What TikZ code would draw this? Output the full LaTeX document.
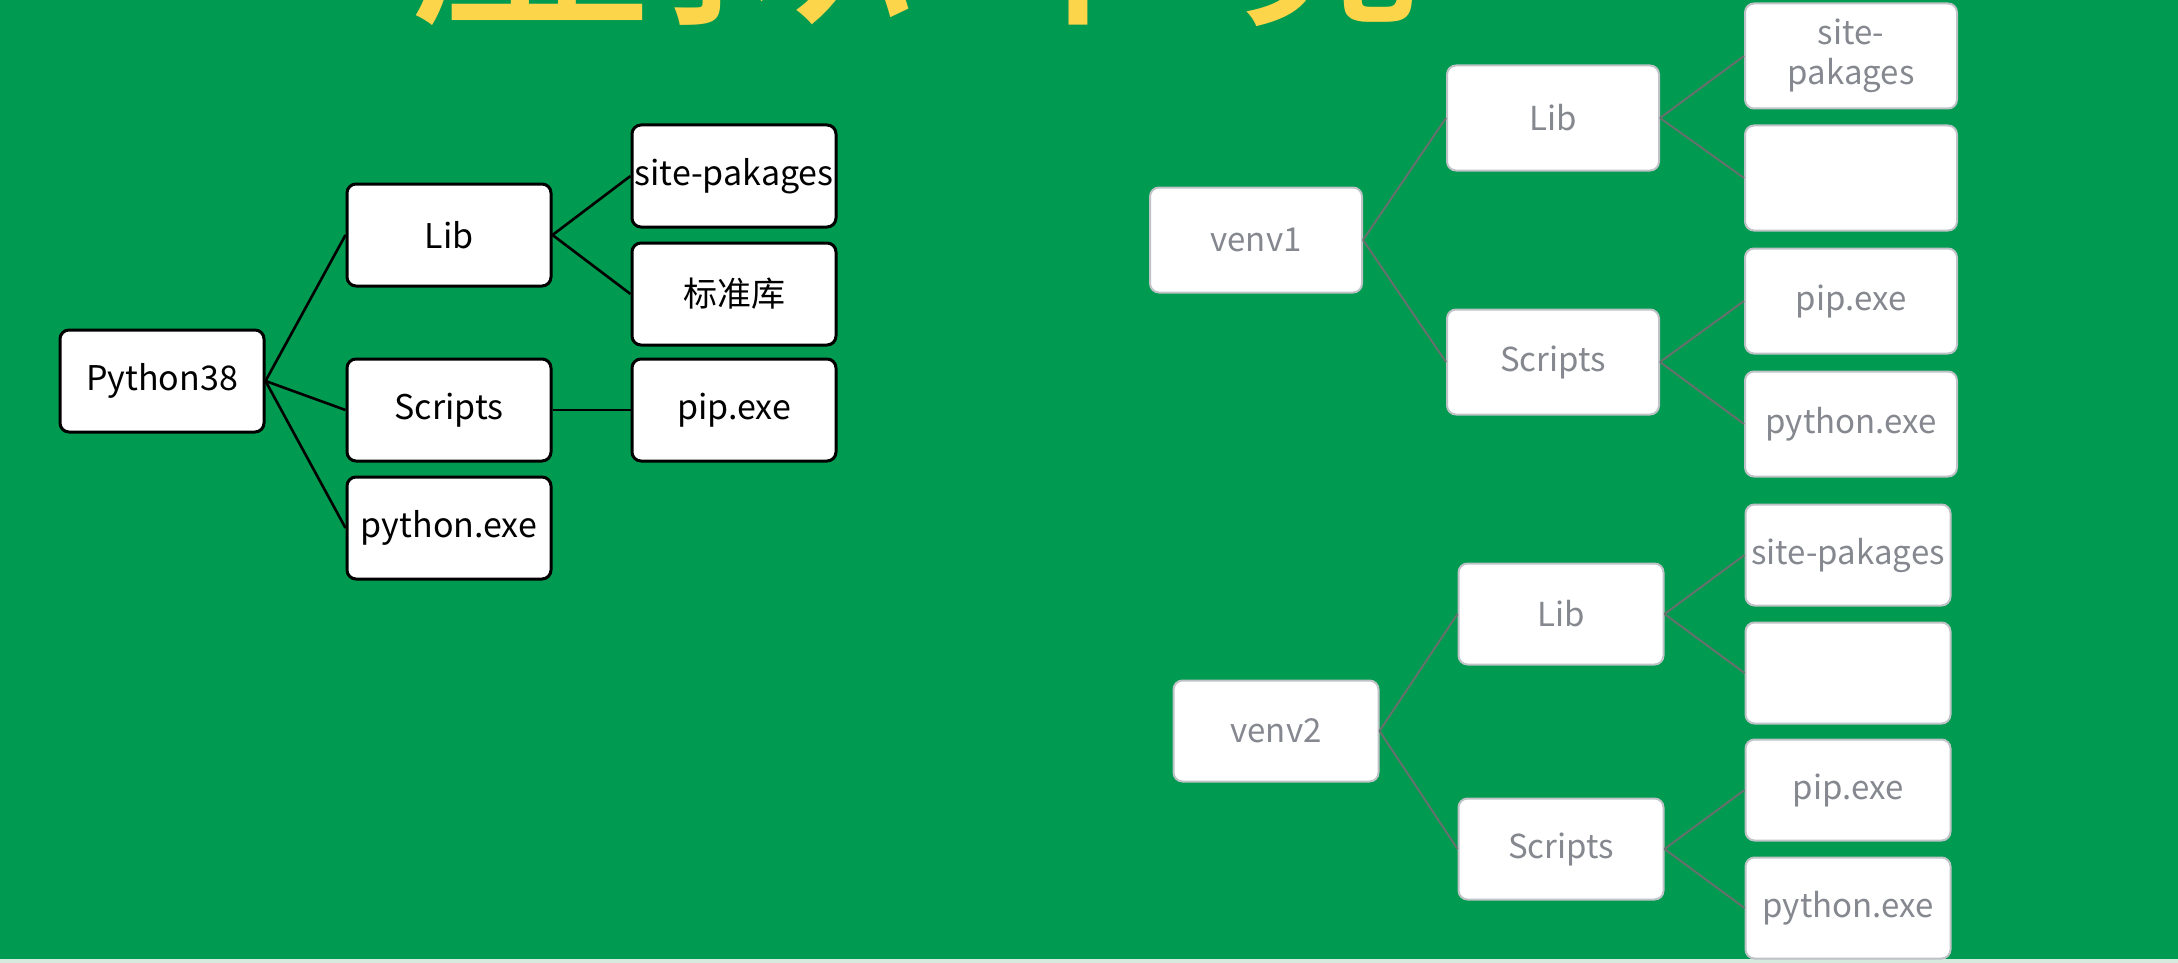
\documentclass[tikz,border=0pt]{standalone}
\usepackage{fontspec}
\setmainfont{Noto Sans CJK SC}
\newfontfamily\titlefont{Noto Sans CJK SC}
\definecolor{bg}{HTML}{009A50}
\definecolor{ttl}{HTML}{FDD54A}
\definecolor{rtext}{HTML}{85888F}
\definecolor{rborder}{HTML}{BFC2C6}
\definecolor{rline}{HTML}{66706C}
\definecolor{edge}{HTML}{D6EADE}
\tikzset{
  lbox/.style={draw=black, line width=3pt, rounded corners=9pt, fill=white, inner sep=0pt,
    minimum width=204pt, minimum height=102pt, font=\fontsize{34}{38}\selectfont, text=black},
  rbox/.style={draw=rborder, line width=2pt, rounded corners=9pt, fill=white, inner sep=0pt,
    font=\fontsize{33}{40}\selectfont, text=rtext, align=center},
  rboxa/.style={rbox, minimum width=212pt, minimum height=105pt},
  rboxb/.style={rbox, minimum width=205pt, minimum height=101pt},
  lline/.style={draw=black, line width=2.6pt},
  rline/.style={draw=rline, line width=2pt}
}
\begin{document}
\begin{tikzpicture}[x=1pt, y=-1pt]
\useasboundingbox (0,0) rectangle (2178,963);
\fill[bg] (0,0) rectangle (2178,963);
\fill[edge] (0,959) rectangle (2178,963);
\begin{scope}
\clip (0,0) rectangle (2178,963);
\node[anchor=base west, inner sep=0pt, text=ttl, font=\titlefont\fontsize{255}{260}\selectfont] (title) at (405,6) {虚拟环境};
\end{scope}

% left tree
\node[lbox] (p38) at (162,381) {Python38};
\node[lbox] (llib) at (449,235) {Lib};
\node[lbox] (lscr) at (449,410) {Scripts};
\node[lbox] (lpy) at (449,528) {python.exe};
\node[lbox] (lsite) at (734,176) {site-pakages};
\node[lbox] (lstd) at (734,294) {标准库};
\node[lbox] (lpip) at (734,410) {pip.exe};
\draw[lline] (p38.east) -- (llib.west);
\draw[lline] (p38.east) -- (lscr.west);
\draw[lline] (p38.east) -- (lpy.west);
\draw[lline] (llib.east) -- (lsite.west);
\draw[lline] (llib.east) -- (lstd.west);
\draw[lline] (lscr.east) -- (lpip.west);

% venv1 tree
\node[rboxa] (v1) at (1256,240) {venv1};
\node[rboxa] (v1lib) at (1553,118) {Lib};
\node[rboxa] (v1scr) at (1553,362) {Scripts};
\node[rboxa] (v1site) at (1851,56) {site-\\pakages};
\node[rboxa] (v1emp) at (1851,178) {};
\node[rboxa] (v1pip) at (1851,301) {pip.exe};
\node[rboxa] (v1py) at (1851,424) {python.exe};
\draw[rline] (v1.east) -- (v1lib.west);
\draw[rline] (v1.east) -- (v1scr.west);
\draw[rline] (v1lib.east) -- (v1site.west);
\draw[rline] (v1lib.east) -- (v1emp.west);
\draw[rline] (v1scr.east) -- (v1pip.west);
\draw[rline] (v1scr.east) -- (v1py.west);

% venv2 tree
\node[rboxb] (v2) at (1276,731) {venv2};
\node[rboxb] (v2lib) at (1561,614) {Lib};
\node[rboxb] (v2scr) at (1561,849) {Scripts};
\node[rboxb] (v2site) at (1848,555) {site-pakages};
\node[rboxb] (v2emp) at (1848,673) {};
\node[rboxb] (v2pip) at (1848,790) {pip.exe};
\node[rboxb] (v2py) at (1848,908) {python.exe};
\draw[rline] (v2.east) -- (v2lib.west);
\draw[rline] (v2.east) -- (v2scr.west);
\draw[rline] (v2lib.east) -- (v2site.west);
\draw[rline] (v2lib.east) -- (v2emp.west);
\draw[rline] (v2scr.east) -- (v2pip.west);
\draw[rline] (v2scr.east) -- (v2py.west);
\end{tikzpicture}
\end{document}
